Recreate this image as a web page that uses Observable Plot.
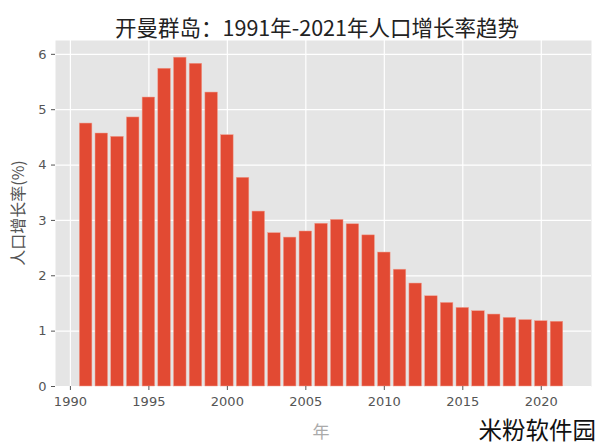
<!DOCTYPE html>
<html><head><meta charset="utf-8">
<script src="https://cdn.jsdelivr.net/npm/d3@7"></script>
<script src="https://cdn.jsdelivr.net/npm/@observablehq/plot@0.6"></script>
<style>
body{margin:0;background:#fff;}
#chart{position:relative;width:600px;height:446px;}
</style>
</head><body><div id="chart"></div>
<script>
const years = [1991,1992,1993,1994,1995,1996,1997,1998,1999,2000,2001,2002,2003,2004,2005,2006,2007,2008,2009,2010,2011,2012,2013,2014,2015,2016,2017,2018,2019,2020,2021];
const growth = [4.75,4.57,4.51,4.86,5.22,5.74,5.94,5.83,5.31,4.54,3.77,3.16,2.77,2.69,2.80,2.94,3.01,2.93,2.73,2.42,2.11,1.86,1.63,1.51,1.42,1.36,1.30,1.24,1.20,1.18,1.17];
const xTicks = [1990,1995,2000,2005,2010,2015,2020];
const yTicks = [0,1,2,3,4,5,6];
const title = "开曼群岛：1991年-2021年人口增长率趋势";
const xLabel = "年";
const yLabel = "人口增长率(%)";
const watermark = "米粉软件园";

const data = years.map((y,i)=>({year:y, value:growth[i]}));
const font = "'DejaVu Sans', 'Noto Sans CJK SC', sans-serif";

const plot = Plot.plot({
  width: 600, height: 446,
  marginTop: 40, marginBottom: 60, marginLeft: 55, marginRight: 9,
  style: {fontFamily: font, fontSize: "13px", color: "#555", background: "#fff"},
  x: {domain: [1989.05, 2023.2], label: null},
  y: {domain: [0, 6.25], label: null},
  marks: [
    Plot.frame({fill: "#E5E5E5", stroke: "none"}),
    Plot.gridX(xTicks, {stroke: "#fff", strokeOpacity: 1, strokeWidth: 1.2}),
    Plot.gridY(yTicks, {stroke: "#fff", strokeOpacity: 1, strokeWidth: 1.2}),
    Plot.rectY(data, {x1: d => d.year - 0.4, x2: d => d.year + 0.4, y: "value", fill: "#E24A33", stroke: "#F0A090", strokeWidth: 0.5}),
    Plot.axisX(xTicks, {tickFormat: d => String(d), tickSize: 4, tickPadding: 6, stroke: "#555", fill: "#555", fontSize: 13, label: null}),
    Plot.axisY(yTicks, {tickFormat: d => String(d), tickSize: 4, tickPadding: 5, stroke: "#555", fill: "#555", fontSize: 13, label: null})
  ]
});

const svg = d3.select(plot);
svg.append("text").attr("x", 317).attr("y", 36).attr("text-anchor", "middle")
  .attr("font-family", "'Noto Sans CJK SC', sans-serif").attr("font-size", 21.5).attr("fill", "#222").text(title);
svg.append("text").attr("x", 321).attr("y", 438).attr("text-anchor", "middle")
  .attr("font-family", "'Noto Sans CJK SC', sans-serif").attr("font-size", 17).attr("fill", "#aaa").text(xLabel);
svg.append("text").attr("transform", "translate(24,213) rotate(-90)").attr("text-anchor", "middle")
  .attr("font-family", "'Noto Sans CJK SC', sans-serif").attr("font-size", 16).attr("fill", "#555").text(yLabel);
svg.append("text").attr("x", 596).attr("y", 439).attr("text-anchor", "end")
  .attr("font-family", "'Noto Sans CJK SC', sans-serif").attr("font-size", 23.5).attr("fill", "#111").text(watermark);

document.getElementById("chart").appendChild(plot);
</script>
</body></html>
